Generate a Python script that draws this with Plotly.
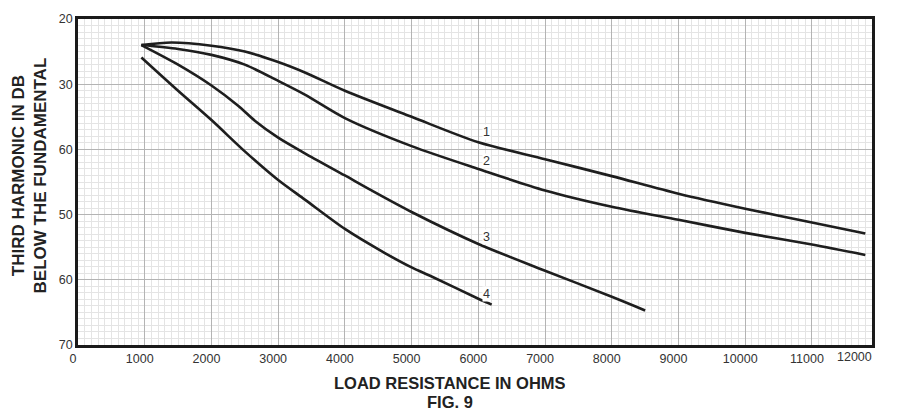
"""Fig. 9 - third harmonic distortion versus load resistance."""
import plotly.graph_objects as go

# curve data (ohms, dB below fundamental)
curve1_x = [950, 1400, 2000, 2500, 3000, 3400, 4000, 5000, 6000, 7000, 8000, 9000, 10000, 11000, 11800]
curve1_y = [24.0, 23.6, 24.1, 25.0, 26.6, 28.2, 31.0, 35.0, 38.9, 41.5, 44.1, 46.8, 49.1, 51.2, 52.9]

curve2_x = [950, 1500, 2000, 2500, 3000, 3400, 4000, 5000, 6000, 7000, 8000, 9000, 10000, 11000, 11800]
curve2_y = [24.0, 24.6, 25.5, 27.0, 29.5, 31.6, 35.2, 39.5, 43.0, 46.3, 48.8, 50.8, 52.8, 54.6, 56.2]

curve3_x = [950, 1500, 2000, 2400, 2650, 3000, 3400, 4000, 4400, 5000, 6000, 7000, 8000, 8500]
curve3_y = [24.0, 27.0, 30.2, 33.3, 35.6, 38.2, 40.6, 44.0, 46.3, 49.6, 54.5, 58.6, 62.6, 64.7]

curve4_x = [950, 1500, 2000, 2500, 3000, 3400, 4000, 4600, 5000, 5300, 6000, 6200]
curve4_y = [25.9, 31.0, 35.5, 40.3, 44.7, 47.7, 52.2, 55.9, 58.1, 59.5, 62.9, 63.8]

curve_names = ["1", "2", "3", "4"]

x_ticks = list(range(0, 12001, 1000))
x_tick_text = [str(v) for v in x_ticks]
y_ticks = [20, 30, 40, 50, 60, 70]
y_tick_text = ["20", "30", "60", "50", "60", "70"]  # as printed on the original

X_MAX = 11900  # the printed frame stops a little short of 12000

# where the curve numbers sit
label_pos = [(6120, 37.4), (6120, 41.8), (6120, 53.4), (6120, 62.2)]

font = "Liberation Sans, Arial, sans-serif"

fig = go.Figure()
for name, xs, ys in zip(
    curve_names,
    [curve1_x, curve2_x, curve3_x, curve4_x],
    [curve1_y, curve2_y, curve3_y, curve4_y],
):
    fig.add_trace(
        go.Scatter(
            x=xs,
            y=ys,
            name=name,
            mode="lines",
            line=dict(color="#1e1e1e", width=2.6, shape="spline", smoothing=0.8),
            showlegend=False,
        )
    )

for name, (lx, ly) in zip(curve_names, label_pos):
    fig.add_annotation(
        x=lx, y=ly, text=name, showarrow=False,
        font=dict(size=12.5, color="#333", family=font), bgcolor="white", borderpad=0,
    )

# last tick label sits just past the frame
fig.add_annotation(
    xref="paper", yref="paper", x=x_ticks[-1] / X_MAX, y=0, xshift=-5, yshift=-12,
    yanchor="middle", text=x_tick_text[-1], showarrow=False,
    font=dict(size=12.5, color="#333", family=font),
)

fig.add_annotation(
    xref="paper", yref="paper", x=0.4685, y=-0.116, yanchor="middle", height=14,
    text="<b>LOAD RESISTANCE IN OHMS</b>", showarrow=False, borderpad=0,
    font=dict(size=16.5, color="#222", family=font),
)
fig.add_annotation(
    xref="paper", yref="paper", x=0.4685, y=-0.1735, yanchor="middle", height=14,
    text="<b>FIG. 9</b>", showarrow=False, borderpad=0,
    font=dict(size=16.5, color="#222", family=font),
)
fig.add_annotation(
    xref="paper", yref="paper", x=-0.0617, y=0.52, xanchor="center",
    text="<b>THIRD HARMONIC IN DB<br>BELOW THE FUNDAMENTAL</b>", showarrow=False,
    textangle=-90, font=dict(size=17, color="#222", family=font),
)

axis_common = dict(
    showline=True, mirror=True, linecolor="#1a1a1a", linewidth=2.5,
    showgrid=True, gridcolor="#b4b4b4", gridwidth=1,
    zeroline=False, ticks="", tickfont=dict(size=12.5, color="#333", family=font),
)
fig.update_xaxes(
    range=[0, X_MAX], tickvals=x_ticks, ticktext=x_tick_text, ticklabelshift=-5,
    minor=dict(dtick=100, showgrid=True, gridcolor="#e4e4e4", gridwidth=1),
    **axis_common,
)
fig.update_yaxes(
    range=[70, 20], tickvals=y_ticks, ticktext=y_tick_text,
    minor=dict(dtick=1, showgrid=True, gridcolor="#e4e4e4", gridwidth=1),
    **axis_common,
)
fig.update_layout(
    width=903, height=412,
    margin=dict(l=78, r=31, t=13, b=67),
    plot_bgcolor="white", paper_bgcolor="white",
    font=dict(family=font),
)
fig.write_html(
    "out.html",
    config={"displayModeBar": False},
    post_script="document.body.style.margin='0';",
)
